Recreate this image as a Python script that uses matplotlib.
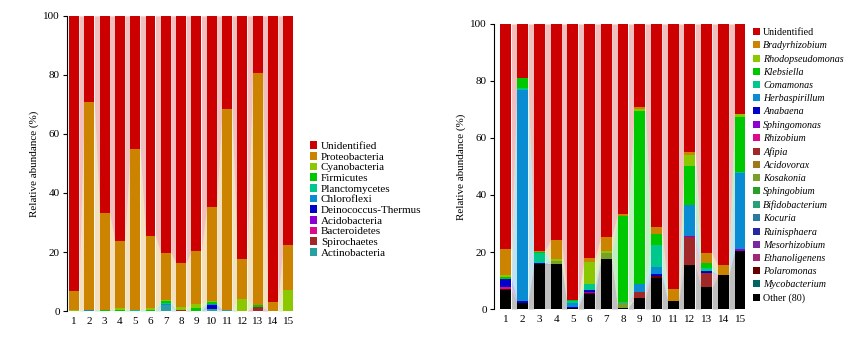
import numpy as np
import matplotlib.pyplot as plt

plt.rcParams['font.family'] = ['Liberation Serif', 'DejaVu Serif']

samples = [str(i) for i in range(1, 16)]

# ---- left panel: phylum level ----
p_unidentified = [93.2, 29.1, 66.9, 76.2, 45.0, 74.5, 80.2, 83.6, 79.7, 64.7, 31.7, 82.2, 19.5, 97.0, 77.7]
p_proteo = [6.3, 70.6, 32.6, 22.8, 54.5, 24.5, 16.0, 15.1, 17.8, 32.0, 67.8, 13.8, 78.5, 3.0, 15.0]
p_cyano = [0.5, 0, 0, 0.5, 0, 0.5, 0.5, 1.0, 1.5, 0.3, 0, 4.0, 0, 0, 7.3]
p_firmicutes = [0, 0, 0.5, 0.5, 0, 0.5, 0.5, 0, 1.0, 0.5, 0, 0, 0.5, 0, 0]
p_plancto = [0, 0, 0, 0, 0.5, 0, 0.3, 0, 0, 0, 0, 0, 0, 0, 0]
p_chloro = [0, 0.3, 0, 0, 0, 0, 0.3, 0, 0, 0.5, 0, 0, 0, 0, 0]
p_deino = [0, 0, 0, 0, 0, 0, 0.2, 0, 0, 1.2, 0, 0, 0, 0, 0]
p_acido = [0, 0, 0, 0, 0, 0, 0, 0, 0, 0, 0, 0, 0, 0, 0]
p_bactero = [0, 0, 0, 0, 0, 0, 0, 0, 0, 0, 0, 0, 0, 0, 0]
p_spiro = [0, 0, 0, 0, 0, 0, 0, 0.3, 0, 0, 0.3, 0, 1.5, 0, 0]
p_actino = [0, 0, 0, 0, 0, 0, 2.0, 0, 0, 0.8, 0.2, 0, 0, 0, 0]

phyla = ['Unidentified', 'Proteobacteria', 'Cyanobacteria', 'Firmicutes', 'Planctomycetes',
         'Chloroflexi', 'Deinococcus-Thermus', 'Acidobacteria', 'Bacteroidetes',
         'Spirochaetes', 'Actinobacteria']
phyla_vals = [p_unidentified, p_proteo, p_cyano, p_firmicutes, p_plancto, p_chloro,
              p_deino, p_acido, p_bactero, p_spiro, p_actino]
phyla_colors = ['#cc0000', '#cc8400', '#8cc800', '#00c800', '#00c88c', '#0a8cd2',
                '#0000c8', '#8c00d2', '#dc0a8c', '#a02828', '#28a0a0']

# ---- right panel: genus level ----
g_unidentified = [78.8, 19.0, 79.5, 75.8, 96.8, 82.2, 74.6, 66.8, 29.2, 71.4, 93.1, 45.0, 80.5, 84.6, 31.7]
g_brady = [9.1, 0, 0.5, 6.7, 0, 1.3, 5.0, 0.4, 0.5, 2.4, 4.0, 1.0, 3.5, 3.5, 0]
g_rhodo = [0.8, 0, 0, 0.7, 0, 7.7, 0.6, 0, 0.7, 0, 0, 3.7, 0, 0, 0.8]
g_klebs = [0.6, 3.6, 0.4, 0, 0.4, 0, 0, 30.3, 60.8, 3.7, 0, 13.8, 1.7, 0, 19.3]
g_comam = [0, 0.5, 3.4, 0, 0.8, 2.3, 0, 0.5, 0, 7.6, 0, 0, 1.0, 0, 0.5]
g_herba = [0, 74.0, 0, 0, 1.2, 0, 0, 0, 2.7, 2.6, 0, 10.8, 0, 0, 26.8]
g_anab = [2.9, 0.9, 0.4, 0, 0.3, 0.5, 0, 0, 0, 0.8, 0, 0, 0.6, 0, 0]
g_sphingomonas = [0, 0, 0, 0, 0, 0.4, 0, 0, 0, 0, 0, 0.3, 0, 0, 0.4]
g_rhizo = [0.6, 0, 0, 0, 0, 0, 0.3, 0, 0, 0, 0, 0, 0, 0, 0]
g_afipia = [0, 0, 0, 0, 0, 0, 0, 0, 2.4, 0, 0, 10.0, 5.1, 0, 0]
g_acidov = [0, 0, 0, 0, 0, 0, 0, 0, 0, 0, 0, 0, 0, 0, 0]
g_kosak = [0, 0, 0, 1.0, 0, 0, 2.1, 1.5, 0, 0, 0, 0, 0, 0, 0]
g_sphingobium = [0, 0, 0, 0, 0, 0, 0, 0, 0, 0, 0, 0, 0, 0, 0]
g_bifido = [0, 0, 0, 0, 0, 0, 0, 0, 0, 0, 0, 0, 0, 0, 0]
g_kocuria = [0, 0, 0, 0, 0, 0, 0, 0, 0, 0, 0, 0, 0, 0, 0]
g_ruini = [0, 0, 0, 0, 0, 0, 0, 0, 0, 0, 0, 0, 0, 0, 0]
g_meso = [0, 0, 0, 0, 0, 0, 0, 0, 0, 0, 0, 0, 0, 0, 0]
g_ethano = [0, 0, 0, 0, 0, 0, 0, 0, 0, 0, 0, 0, 0, 0, 0]
g_polaro = [0.4, 0, 0, 0, 0, 0.3, 0, 0, 0, 0.5, 0, 0, 0, 0, 0]
g_myco = [0, 0, 0, 0, 0, 0, 0, 0, 0, 0, 0, 0, 0, 0, 0]
g_other = [6.8, 2.0, 15.8, 15.8, 0.5, 5.3, 17.4, 0.5, 3.7, 11.0, 2.9, 15.4, 7.6, 11.9, 20.5]

genera = ['Unidentified', 'Bradyrhizobium', 'Rhodopseudomonas', 'Klebsiella', 'Comamonas',
          'Herbaspirillum', 'Anabaena', 'Sphingomonas', 'Rhizobium', 'Afipia', 'Acidovorax',
          'Kosakonia', 'Sphingobium', 'Bifidobacterium', 'Kocuria', 'Ruinisphaera',
          'Mesorhizobium', 'Ethanoligenens', 'Polaromonas', 'Mycobacterium', 'Other (80)']
genera_vals = [g_unidentified, g_brady, g_rhodo, g_klebs, g_comam, g_herba, g_anab,
               g_sphingomonas, g_rhizo, g_afipia, g_acidov, g_kosak, g_sphingobium, g_bifido,
               g_kocuria, g_ruini, g_meso, g_ethano, g_polaro, g_myco, g_other]
genera_colors = ['#cc0000', '#cc8400', '#8cc800', '#00c800', '#00c88c', '#0a8cd2', '#0000c8',
                 '#8c00d2', '#dc0a8c', '#a02828', '#a0781e', '#78a028', '#28a028', '#28a078',
                 '#2878a0', '#2828a0', '#7828a0', '#a02878', '#640000', '#006464', '#000000']


def stacked(ax, names, vals, colors, width):
    x = np.arange(1, len(samples) + 1)
    bottom = np.zeros(len(x))
    handles = []
    # stack from the last legend entry (bottom) up to the first (top)
    for name, v, c in reversed(list(zip(names, vals, colors))):
        v = np.array(v, dtype=float)
        top = bottom + v
        b = ax.bar(x, v, width, bottom=bottom, color=c, linewidth=0, label=name, zorder=3)
        handles.append(b)
        for i in range(len(x) - 1):
            xs = [x[i] + width / 2, x[i + 1] - width / 2]
            ax.fill_between(xs, [bottom[i], bottom[i + 1]], [top[i], top[i + 1]],
                            color=c, alpha=0.25, linewidth=0, zorder=2)
        bottom = top
    ax.set_xticks(x)
    ax.set_xticklabels(samples)
    ax.set_ylim(0, 100)
    ax.set_yticks([0, 20, 40, 60, 80, 100])
    ax.set_ylabel('Relative abundance (%)', fontsize=8, labelpad=3)
    for s in ['top', 'right', 'bottom']:
        ax.spines[s].set_visible(False)
    ax.spines['left'].set_linewidth(0.8)
    ax.tick_params(axis='x', length=0, labelsize=8, pad=4)
    ax.tick_params(axis='y', length=3, width=0.8, labelsize=8, pad=2)
    return handles[::-1]


fig = plt.figure(figsize=(8.53, 3.37), dpi=100)

ax1 = fig.add_axes([0.0785, 0.077, 0.271, 0.876])
h1 = stacked(ax1, phyla, phyla_vals, phyla_colors, 0.65)
ax1.set_xlim(0.54, 15.65)
ax1.legend(h1, phyla, loc='upper left', bbox_to_anchor=(1.05, 0.575), frameon=False,
           fontsize=8, handlelength=0.7, handleheight=0.7, handletextpad=0.3,
           labelspacing=0.08, borderaxespad=0, borderpad=0)

ax2 = fig.add_axes([0.579, 0.083, 0.298, 0.846])
h2 = stacked(ax2, genera, genera_vals, genera_colors, 0.65)
ax2.set_xlim(0.28, 15.48)
leg2 = ax2.legend(h2, genera, loc='upper left', bbox_to_anchor=(1.02, 0.985), frameon=False,
                  fontsize=7.2, handlelength=0.7, handleheight=0.7, handletextpad=0.3,
                  labelspacing=0.42, borderaxespad=0, borderpad=0)
for t in leg2.get_texts()[1:-1]:
    t.set_fontstyle('italic')

fig.savefig('out.png', dpi=100)
